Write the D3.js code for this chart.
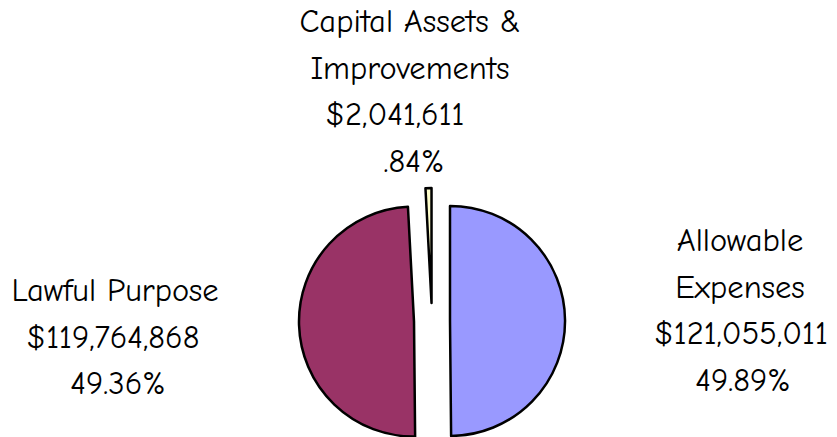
<!DOCTYPE html>
<html>
<head>
<meta charset="utf-8">
<script src="https://cdn.jsdelivr.net/npm/d3@7"></script>
<style>
  body { margin: 0; background: #fff; }
  text { font-family: "Comic Sans MS", "Comic Neue", "DejaVu Sans", sans-serif; font-size: 32.5px; fill: #000; }
</style>
</head>
<body>
<svg width="837" height="437"></svg>
<script>
var categories = ["Allowable Expenses", "Lawful Purpose", "Capital Assets & Improvements"];
var values = [121055011, 119764868, 2041611];
var percents = ["49.89%", "49.36%", ".84%"];
var amounts = ["$121,055,011", "$119,764,868", "$2,041,611"];
var colors = ["#9999ff", "#993366", "#ffffcc"];

var svg = d3.select("svg"),
	width = +svg.attr("width"),
	height = +svg.attr("height");

var cx = 432, cy = 321, radius = 115, explode = 18;

var data = values.map((v, i) => ({ name: categories[i], value: v, color: colors[i] }));

// pie starts at 12 o'clock, clockwise, no sorting
var pie = d3.pie().sort(null).value((d) => d.value);
var arc = d3.arc().innerRadius(0).outerRadius(radius);

var g = svg.append("g").attr("transform", "translate(" + cx + "," + cy + ")");

g.selectAll("path")
	.data(pie(data))
	.enter().append("path")
	.attr("d", arc)
	.attr("transform", (d) => {
		var a = (d.startAngle + d.endAngle) / 2;
		return "translate(" + (Math.sin(a) * explode) + "," + (-Math.cos(a) * explode) + ")";
	})
	.attr("fill", (d) => d.data.color)
	.attr("stroke", "#000")
	.attr("stroke-width", 2.5)
	.attr("stroke-linejoin", "round");

// Label blocks: lines centred on x, each line nudged like the original
var labels = [
	{ x: 740, y: 251, lines: ["Allowable", "Expenses", amounts[0], percents[0]], dx: [0, 0, 1, 3] },
	{ x: 115, y: 301, lines: ["Lawful Purpose", amounts[1], percents[1]], dx: [0, -2, 3] },
	{ x: 410, y: 32, lines: ["Capital Assets &", "Improvements", amounts[2], percents[2]], dx: [0, 0, -15, 4] }
];
var lineHeight = 46.5;

labels.forEach((l) => {
	svg.append("g").selectAll("text")
		.data(l.lines)
		.enter().append("text")
		.attr("x", (d, i) => l.x + l.dx[i])
		.attr("y", (d, i) => l.y + i * lineHeight)
		.attr("text-anchor", "middle")
		.text((d) => d);
});
</script>
</body>
</html>
